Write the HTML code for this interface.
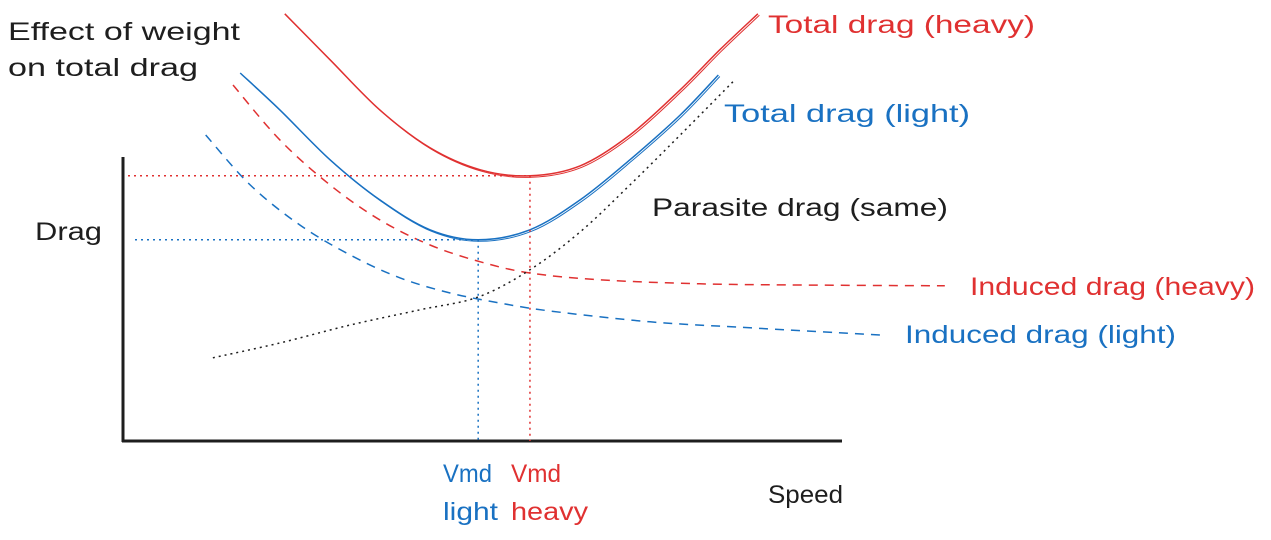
<!DOCTYPE html>
<html><head><meta charset="utf-8"><style>
html,body{margin:0;padding:0;background:#fff}
svg{display:block}
text{font-family:"Liberation Sans",sans-serif;font-size:25px}
</style></head><body>
<svg id="chart" width="1271" height="540" viewBox="0 0 1271 540" xmlns="http://www.w3.org/2000/svg">
<g id="axes">
<path d="M123 157 L123 442" stroke="#1e1e1e" stroke-width="3" fill="none"/>
<path d="M122 441 L842 441" stroke="#1e1e1e" stroke-width="3" fill="none"/>
</g>
<g id="curves"></g>
<g>
<text x="8" y="40" textLength="232" lengthAdjust="spacingAndGlyphs" fill="#1e1e1e">Effect of weight</text>
<text x="8" y="76" textLength="190" lengthAdjust="spacingAndGlyphs" fill="#1e1e1e">on total drag</text>
<text x="35" y="240" textLength="67" lengthAdjust="spacingAndGlyphs" fill="#1e1e1e">Drag</text>
<text x="768" y="503" textLength="75" lengthAdjust="spacingAndGlyphs" fill="#1e1e1e">Speed</text>
<text x="768" y="33" textLength="267" lengthAdjust="spacingAndGlyphs" fill="#e03131">Total drag (heavy)</text>
<text x="724" y="122" textLength="246" lengthAdjust="spacingAndGlyphs" fill="#1971c2">Total drag (light)</text>
<text x="652" y="216" textLength="296" lengthAdjust="spacingAndGlyphs" fill="#1e1e1e">Parasite drag (same)</text>
<text x="970" y="295" textLength="285" lengthAdjust="spacingAndGlyphs" fill="#e03131">Induced drag (heavy)</text>
<text x="905" y="343" textLength="271" lengthAdjust="spacingAndGlyphs" fill="#1971c2">Induced drag (light)</text>
<text x="443" y="482" textLength="49" lengthAdjust="spacingAndGlyphs" fill="#1971c2">Vmd</text>
<text x="443" y="520" textLength="55" lengthAdjust="spacingAndGlyphs" fill="#1971c2">light</text>
<text x="511" y="482" textLength="50" lengthAdjust="spacingAndGlyphs" fill="#e03131">Vmd</text>
<text x="511" y="520" textLength="77" lengthAdjust="spacingAndGlyphs" fill="#e03131">heavy</text>
</g>
</svg>
<script>
const totalHeavySpeed=[22.5,28.8,35.7,42.7,49.7,56.6,63.6,70.5,77.5,83.0,88.3];
const totalHeavyDrag=[106.8,95.3,82.8,73.3,67.8,66.3,68.8,76.5,87.8,97.8,106.8];
const totalLightSpeed=[16.3,21.8,28.8,35.7,42.7,49.4,56.6,63.6,70.5,77.5,82.8];
const totalLightDrag=[92,82.8,70.3,60.3,52.8,50.3,52.8,60.3,70.3,81.5,91.5];
const inducedHeavySpeed=[15.3,21.8,28.8,35.7,42.7,49.7,56.6,66.3,80.2,94.2,114.3];
const inducedHeavyDrag=[89,75.3,64,55.3,49,44.8,42,40.3,39.3,39,38.8];
const inducedLightSpeed=[11.5,17.7,24.6,31.6,38.5,45.5,52.4,59.4,73.3,87.2,105.3];
const inducedLightDrag=[76.5,64,54,46.5,40.8,37,34.5,32.5,29.8,28.3,26.5];
const parasiteSpeed=[12.5,21.8,31.6,41.3,49.4,56.6,63.6,70.5,77.5,85.1];
const parasiteDrag=[20.8,24.5,29,32.8,36,42.8,52.3,64,76.5,90.3];
const vmdLight=[49.4,50.3];
const vmdHeavy=[56.6,66.3];

const xScale=v=>123+v*7.19;
const yScale=d=>441-d*4;
const NS="http://www.w3.org/2000/svg";
const g=document.getElementById('curves');
function smooth(xs,ys,dx,dy){
  const p=xs.map((x,i)=>[xScale(x)+dx,yScale(ys[i])+dy]);
  let d=`M${p[0][0]} ${p[0][1]}`;
  for(let i=0;i<p.length-1;i++){
    const p0=p[i-1]||p[i],p1=p[i],p2=p[i+1],p3=p[i+2]||p2;
    const c1=[p1[0]+(p2[0]-p0[0])/6,p1[1]+(p2[1]-p0[1])/6];
    const c2=[p2[0]-(p3[0]-p1[0])/6,p2[1]-(p3[1]-p1[1])/6];
    d+=` C${c1[0]} ${c1[1]} ${c2[0]} ${c2[1]} ${p2[0]} ${p2[1]}`;
  }
  return d;
}
function addPath(name,d,color,dash,w){
  const el=document.createElementNS(NS,'path');
  
  
  el.setAttribute('d',d);el.setAttribute('stroke',color);el.setAttribute('fill','none');
  el.setAttribute('stroke-width',w||1.5);
  if(dash)el.setAttribute('stroke-dasharray',dash);
  g.appendChild(el);
}
const RED='#e03131',BLUE='#1971c2';
addPath('total-drag-heavy-line',smooth(totalHeavySpeed,totalHeavyDrag,0,0),RED);
addPath('total-drag-heavy-line-2',smooth(totalHeavySpeed,totalHeavyDrag,1.5,1.5),RED,null,1);
addPath('total-drag-light-line',smooth(totalLightSpeed,totalLightDrag,0,0),BLUE);
addPath('total-drag-light-line-2',smooth(totalLightSpeed,totalLightDrag,1.5,1.5),BLUE,null,1);
addPath('induced-drag-heavy-line',smooth(inducedHeavySpeed,inducedHeavyDrag,0,0),RED,'9 7');
addPath('induced-drag-light-line',smooth(inducedLightSpeed,inducedLightDrag,0,0),BLUE,'9 7');
addPath('parasite-drag-line',smooth(parasiteSpeed,parasiteDrag,0,0),'#1e1e1e','2 4');
const xh=xScale(vmdHeavy[0]),yh=yScale(vmdHeavy[1]);
const xl=xScale(vmdLight[0]),yl=yScale(vmdLight[1]);
addPath('vmd-heavy-horizontal',`M128 ${yh} L${xh} ${yh}`,RED,'2 4');
addPath('vmd-heavy-vertical',`M${xh} ${yh} L${xh} 441`,RED,'2 4');
addPath('vmd-light-horizontal',`M135 ${yl} L${xl} ${yl}`,BLUE,'2 4');
addPath('vmd-light-vertical',`M${xl} ${yl} L${xl} 441`,BLUE,'2 4');
</script>
</body></html>
